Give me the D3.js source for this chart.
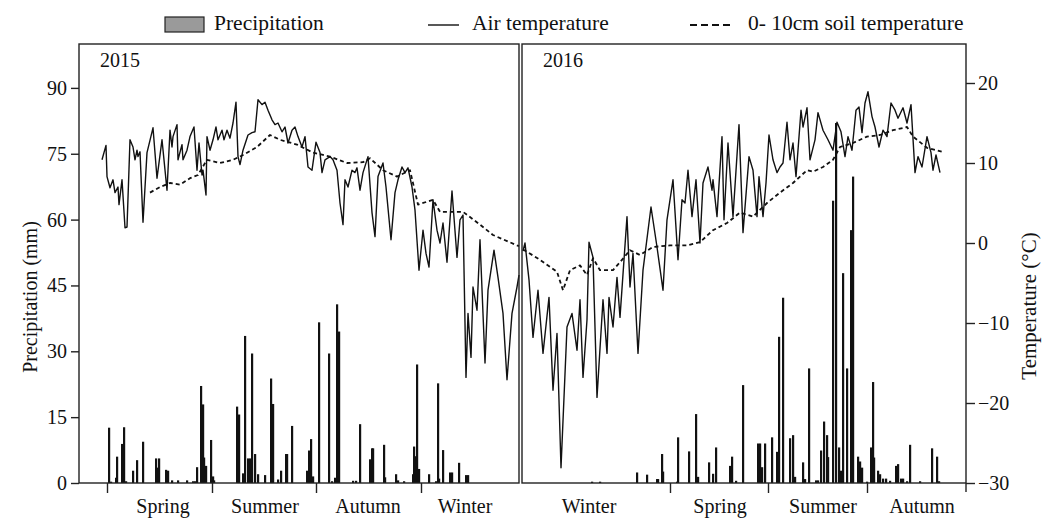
<!DOCTYPE html>
<html>
<head>
<meta charset="utf-8">
<script src="https://cdn.jsdelivr.net/npm/d3@7"></script>
<style>
body { margin: 0; background: #fff; }
svg text { font-family: "Liberation Serif", "Times New Roman", "DejaVu Serif", serif; fill: #111; }
</style>
</head>
<body>
<div id="chart"></div>
<script>
// time index t per panel, temperature in degC, precipitation in mm
var airA = [[23,10.4],[27,12.2],[28,8.3],[31,6.9],[34,7.9],[36,6.3],[39,7.0],[40,4.8],[43,7.9],[46,1.9],[48,2.0],[51,12.9],[54,12.0],[56,10.4],[58,11.6],[59,10.8],[61,11.4],[64,2.6],[68,11.3],[74,14.4],[78,8.1],[83,12.9],[88,6.6],[91,14.1],[93,12.0],[94,13.3],[98,14.8],[99,10.4],[103,12.3],[104,10.4],[108,11.6],[111,13.3],[115,14.5],[118,9.1],[120,12.5],[123,8.5],[124,9.1],[127,6.0],[128,13.3],[131,11.6],[134,12.9],[137,14.5],[139,12.9],[143,14.1],[145,12.9],[148,14.1],[151,13.1],[154,15.0],[157,17.6],[159,10.8],[161,9.8],[164,11.6],[169,13.5],[173,13.8],[176,13.9],[179,17.9],[183,17.3],[186,17.6],[189,16.6],[193,15.4],[196,14.8],[199,15.0],[203,13.9],[206,14.5],[209,12.5],[213,14.1],[216,14.5],[219,13.3],[223,12.0],[226,13.3],[229,9.5],[233,9.1],[237,12.6],[241,11.3],[243,8.8],[246,10.4],[251,10.8],[254,10.4],[258,9.1],[261,5.0],[264,2.3],[266,7.9],[269,7.0],[273,9.1],[276,8.8],[278,9.4],[281,6.6],[284,8.8],[289,10.8],[293,3.8],[296,0.8],[299,8.3],[304,10.0],[307,7.0],[312,0.4],[316,6.3],[319,7.9],[323,9.5],[326,8.8],[329,9.4],[333,7.0],[336,4.1],[340,-3.4],[344,1.6],[347,-1.3],[350,-3.0],[354,5.4],[358,1.6],[361,0],[364,2.5],[368,-2.4],[373,6.5],[378,-1.8],[381,2.9],[384,3.5],[387,-16.8],[389,-8.8],[392,-14.3],[394,-5.5],[398,-8.4],[401,0.4],[406,-15.0],[409,-5.9],[415,-0.9],[419,-4.3],[424,-8.8],[428,-17.1],[433,-8.8],[438,-5.5],[440,-4.0]];

var airB = [[1,-1.0],[3,0],[7,-4.6],[11,-11.8],[16,-5.9],[21,-13.8],[27,-6.8],[31,-18.4],[35,-11.3],[39,-28.1],[45,-10.5],[50,-8.8],[55,-13.4],[58,-7.1],[61,-16.8],[65,-9.6],[67,0.1],[71,-1.8],[75,-19.3],[81,-7.1],[85,-13.8],[87,-6.8],[91,-10.5],[95,-4.3],[98,-9.3],[105,3.3],[108,-5.5],[111,-1.3],[116,-13.8],[121,-3.4],[129,4.5],[135,-0.5],[141,-5.9],[145,2.9],[151,7.9],[156,-2.1],[160,5.4],[163,5.0],[166,9.1],[170,3.3],[174,7.9],[178,0],[181,7.5],[186,9.5],[190,6.6],[191,7.9],[195,3.3],[200,13.3],[202,2.9],[206,12.5],[211,3.3],[217,14.8],[221,1.3],[227,10.8],[231,9.1],[235,3.3],[237,8.3],[241,3.3],[244,7.5],[247,13.5],[251,10.4],[255,8.8],[258,9.5],[261,10.0],[265,15.1],[268,10.4],[271,12.5],[274,8.3],[279,16.6],[281,14.5],[285,16.9],[288,10.4],[293,12.9],[296,16.3],[301,14.1],[306,12.9],[311,11.6],[315,15.1],[319,13.9],[323,10.8],[326,13.3],[330,11.6],[334,16.6],[337,17.0],[340,13.8],[343,17.5],[346,18.9],[350,15.8],[353,14.5],[357,12.0],[361,14.1],[365,13.3],[369,17.5],[373,16.6],[376,15.6],[381,16.9],[385,15.0],[389,17.3],[393,8.8],[396,10.8],[400,9.5],[405,13.3],[409,11.3],[411,9.1],[414,11.0],[418,8.8]];

var soilA = [[71,6.3],[81,7.0],[91,7.5],[101,7.3],[111,8.1],[119,8.5],[128,10.4],[141,10.0],[154,10.4],[164,11.0],[178,12.0],[191,13.5],[201,12.9],[218,12.3],[234,11.3],[251,10.8],[268,10.0],[284,10.1],[291,10.6],[304,9.1],[318,8.3],[331,9.1],[339,4.8],[354,5.4],[361,3.9],[384,3.9],[401,2.3],[414,1.0],[438,-0.3],[440,-0.4]];

var soilB = [[1,-0.8],[5,-1.1],[18,-2.1],[35,-3.6],[41,-5.9],[48,-3.4],[58,-2.8],[65,-4.0],[71,-1.9],[78,-3.4],[91,-3.4],[98,-2.4],[108,-0.9],[118,-1.5],[131,-0.5],[148,-0.3],[165,-0.3],[178,0.1],[191,1.6],[205,2.5],[218,3.8],[231,3.3],[245,5.0],[258,6.3],[271,7.5],[285,9.1],[291,8.9],[301,9.5],[311,10.4],[318,12.0],[331,12.5],[345,13.3],[358,13.5],[371,14.1],[385,14.5],[391,13.3],[405,11.9],[420,11.4]];

var precipA = [[30,12.6],[32,0.3],[37,1.2],[38,6.0],[43,8.9],[45,12.7],[47,0.4],[54,2.8],[58,5.2],[64,9.4],[77,5.6],[78,3.5],[80,5.6],[87,3.0],[89,2.8],[93,0.6],[99,0.6],[108,0.6],[114,0.4],[116,0.4],[118,3.6],[122,22.1],[124,17.9],[125,5.8],[127,3.9],[132,9.8],[134,1.5],[135,0.6],[158,17.4],[160,15.6],[164,2.2],[166,33.5],[169,5.6],[171,5.6],[173,29.5],[176,6.6],[179,2.0],[186,1.8],[192,23.8],[194,18.0],[199,0.8],[202,2.8],[207,6.6],[208,6.6],[213,13.0],[228,2.8],[230,7.4],[232,10.0],[234,1.5],[240,36.6],[250,29.5],[253,0.4],[256,1.2],[258,40.7],[260,34.5],[274,0.5],[277,0.5],[281,13.4],[291,5.4],[293,7.9],[294,7.9],[305,8.7],[306,1.3],[317,2.0],[319,0.6],[325,0.4],[334,2.0],[335,8.3],[337,6.1],[338,27.0],[340,3.2],[350,2.0],[357,0.4],[359,22.7],[360,1.0],[364,7.5],[371,2.4],[373,2.4],[380,4.6],[387,1.8],[389,1.8]];

var precipB = [[70,0.3],[78,0.3],[115,2.4],[125,1.9],[135,0.9],[136,0.9],[140,6.6],[141,2.6],[155,0.3],[156,10.4],[167,7.2],[174,15.7],[176,1.4],[187,4.7],[191,2.1],[194,8.1],[208,3.9],[210,6.0],[214,0.5],[221,22.3],[236,9.0],[238,9.0],[240,3.6],[243,9.0],[250,10.4],[255,7.1],[257,33.3],[261,42.2],[268,10.2],[271,10.9],[273,1.4],[281,4.7],[283,0.9],[287,26.1],[294,0.6],[296,0.6],[299,7.4],[302,14.0],[305,10.9],[306,5.9],[311,64.3],[314,82.0],[317,8.1],[319,2.8],[321,47.8],[325,26.1],[329,57.6],[331,69.8],[336,6.0],[338,4.9],[340,3.5],[345,0.3],[349,8.1],[351,23.0],[352,5.8],[356,2.8],[358,2.0],[361,1.0],[364,1.0],[368,0.5],[374,3.9],[376,4.3],[379,1.0],[381,1.0],[385,0.4],[388,8.7],[398,0.4],[410,7.9],[415,6.0],[417,0.4]];

var precipTicks = [0, 15, 30, 45, 60, 75, 90];
var tempTicks = [-30, -20, -10, 0, 10, 20];
var seasonTicksA = [28, 133, 237, 342];
var seasonTicksB = [148, 246, 345];
var seasonNamesA = ["Spring", "Summer", "Autumn", "Winter"];
var seasonPosA = [84, 186, 289, 386];
var seasonNamesB = ["Winter", "Spring", "Summer", "Autumn"];
var seasonPosB = [67, 198, 301, 400];

var margin = {top: 44, right: 76, bottom: 36, left: 79};
var width = 1042 - margin.left - margin.right;
var height = 519 - margin.top - margin.bottom;

var svg = d3.select("#chart").append("svg")
	.attr("width", 1042)
	.attr("height", 519);
var g = svg.append("g")
	.attr("transform", "translate(" + margin.left + "," + margin.top + ")");

var xA = d3.scaleLinear().domain([0, 440]).range([0, 440]);
var xB = d3.scaleLinear().domain([0, 444]).range([443, width]);
var yP = d3.scaleLinear().domain([0, 100]).range([height, 0]);
var yT = d3.scaleLinear().domain([-30, 25]).range([height, -1]);

// precipitation bars
function drawBars(data, x, cls){
	g.selectAll("." + cls).data(data).enter()
		.append("rect")
		.attr("class", cls)
		.attr("x", function(d){ return x(d[0]) - 1; })
		.attr("width", 2.2)
		.attr("y", function(d){ return yP(d[1]); })
		.attr("height", function(d){ return height - yP(d[1]); })
		.attr("fill", "#111");
}
drawBars(precipA, xA, "barA");
drawBars(precipB, xB, "barB");

function drawLine(data, x, dashed){
	var line = d3.line()
		.x(function(d){ return x(d[0]); })
		.y(function(d){ return yT(d[1]); });
	g.append("path")
		.datum(data)
		.attr("d", line)
		.attr("fill", "none")
		.attr("stroke", "#111")
		.attr("stroke-width", dashed ? 1.8 : 1.4)
		.attr("stroke-linejoin", "round")
		.attr("stroke-dasharray", dashed ? "4,3" : null);
}
drawLine(soilA, xA, true);
drawLine(soilB, xB, true);
drawLine(airA, xA, false);
drawLine(airB, xB, false);

// panel frames
g.append("rect").attr("x", 0).attr("y", 0).attr("width", xA(440)).attr("height", height)
	.attr("fill", "none").attr("stroke", "#222").attr("stroke-width", 1.4);
g.append("rect").attr("x", xB(0)).attr("y", 0).attr("width", xB(444) - xB(0)).attr("height", height)
	.attr("fill", "none").attr("stroke", "#222").attr("stroke-width", 1.4);
g.append("line").attr("x1", width).attr("x2", width).attr("y1", height).attr("y2", height + 9)
	.attr("stroke", "#222").attr("stroke-width", 1.4);

function styleAxis(sel){
	sel.attr("font-family", null);
	sel.select(".domain").remove();
	sel.selectAll(".tick line").attr("stroke", "#222").attr("stroke-width", 1.4);
	sel.selectAll("text").attr("font-size", 20).attr("fill", "#111");
}

var leftAxis = g.append("g")
	.call(d3.axisLeft(yP).tickValues(precipTicks).tickSize(8).tickPadding(4));
styleAxis(leftAxis);

var rightAxis = g.append("g")
	.attr("transform", "translate(" + width + ",0)")
	.call(d3.axisRight(yT).tickValues(tempTicks).tickSize(9).tickPadding(3));
styleAxis(rightAxis);

var bottomA = g.append("g")
	.attr("transform", "translate(0," + height + ")")
	.call(d3.axisBottom(xA).tickValues(seasonTicksA).tickSize(10).tickFormat(""));
styleAxis(bottomA);
var bottomB = g.append("g")
	.attr("transform", "translate(0," + height + ")")
	.call(d3.axisBottom(xB).tickValues(seasonTicksB).tickSize(10).tickFormat(""));
styleAxis(bottomB);

g.selectAll(".seasonA").data(seasonNamesA).enter()
	.append("text")
	.attr("x", function(d, i){ return xA(seasonPosA[i]); })
	.attr("y", height + 30)
	.attr("text-anchor", "middle")
	.attr("font-size", 20)
	.text(function(d){ return d; });
g.selectAll(".seasonB").data(seasonNamesB).enter()
	.append("text")
	.attr("x", function(d, i){ return xB(seasonPosB[i]); })
	.attr("y", height + 30)
	.attr("text-anchor", "middle")
	.attr("font-size", 20)
	.text(function(d){ return d; });

// year labels
g.append("text").attr("x", 21).attr("y", 23).attr("font-size", 20).text("2015");
g.append("text").attr("x", xB(0) + 21).attr("y", 23).attr("font-size", 20).text("2016");

// axis titles
g.append("text")
	.attr("transform", "translate(-42," + 253 + ") rotate(-90)")
	.attr("text-anchor", "middle")
	.attr("font-size", 20)
	.text("Precipitation (mm)");
g.append("text")
	.attr("transform", "translate(" + (width + 70) + "," + 262 + ") rotate(-90)")
	.attr("text-anchor", "middle")
	.attr("font-size", 21)
	.text("Temperature (°C)");

// legend
var legend = svg.append("g");
legend.append("rect").attr("x", 165).attr("y", 17).attr("width", 39).attr("height", 15)
	.attr("fill", "#9a9a9a").attr("stroke", "#222").attr("stroke-width", 1.2);
legend.append("text").attr("x", 214).attr("y", 30).attr("font-size", 21.5).text("Precipitation");
legend.append("line").attr("x1", 428).attr("x2", 459).attr("y1", 25).attr("y2", 25)
	.attr("stroke", "#111").attr("stroke-width", 1.4);
legend.append("text").attr("x", 472).attr("y", 30).attr("font-size", 21.5).text("Air temperature");
legend.append("line").attr("x1", 690).attr("x2", 730).attr("y1", 25).attr("y2", 25)
	.attr("stroke", "#111").attr("stroke-width", 1.8).attr("stroke-dasharray", "7,4");
legend.append("text").attr("x", 748).attr("y", 30).attr("font-size", 21.5).text("0- 10cm soil temperature");
</script>
</body>
</html>
